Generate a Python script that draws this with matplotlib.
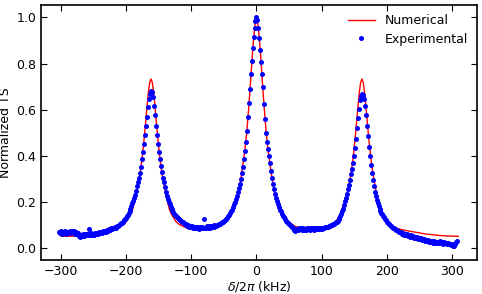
import numpy as np
import matplotlib
matplotlib.use("Agg")
import matplotlib.pyplot as plt

out_path = "out.png"

# Numerical (simulated) spectrum
num_x = [
    -300, -290, -280, -270, -260, -250, -240, -230, -220, -212, -206, -200,
    -194, -190, -186, -182, -179, -176, -174, -172, -170, -168, -166, -164,
    -162, -160, -158, -156, -154, -152, -150, -148, -145, -142, -138, -134,
    -130, -124, -118, -110, -100, -90, -80, -70, -60, -50, -43, -38, -34,
    -30, -27, -24, -21, -18, -15, -12, -10, -8, -6, -4, -2, 0, 2, 4, 6, 8,
    10, 12, 15, 18, 21, 24, 27, 30, 34, 38, 43, 50, 60, 70, 80, 90, 100,
    110, 120, 126, 130, 134, 138, 142, 145, 148, 150, 152, 154, 156, 158,
    160, 162, 164, 166, 168, 170, 172, 174, 176, 179, 182, 186, 190, 195,
    200, 205, 210, 220, 230, 240, 250, 260, 270, 280, 290, 300, 310,
]
num_y = [
    0.052, 0.052, 0.053, 0.055, 0.058, 0.061, 0.065, 0.070, 0.078, 0.088, 0.100, 0.115,
    0.143, 0.170, 0.220, 0.274, 0.321, 0.382, 0.433, 0.490, 0.554, 0.618, 0.676, 0.718,
    0.733, 0.718, 0.676, 0.618, 0.554, 0.490, 0.433, 0.382, 0.321, 0.274, 0.220, 0.170,
    0.145, 0.117, 0.102, 0.092, 0.085, 0.082, 0.082, 0.085, 0.093, 0.112, 0.135, 0.155, 0.180,
    0.215, 0.250, 0.300, 0.360, 0.420, 0.500, 0.605, 0.683, 0.766, 0.850, 0.920, 0.972, 0.990, 0.972, 0.920, 0.850, 0.766,
    0.683, 0.605, 0.500, 0.420, 0.360, 0.300, 0.250, 0.215, 0.180, 0.155, 0.135, 0.113, 0.094, 0.088, 0.086, 0.086, 0.088,
    0.096, 0.110, 0.133, 0.160, 0.190, 0.225, 0.274, 0.321, 0.382, 0.433, 0.490, 0.554, 0.618, 0.676,
    0.718, 0.733, 0.718, 0.676, 0.618, 0.554, 0.490, 0.433, 0.382, 0.321, 0.274, 0.210, 0.168, 0.135,
    0.115, 0.101, 0.092, 0.083, 0.077, 0.072, 0.067, 0.062, 0.059, 0.056, 0.054, 0.053, 0.052,
]

# Experimental sweep: starts at -303 kHz, one point every 1.5 kHz
exp_start = -303.0
exp_step = 1.5
exp_y = [
    0.072, 0.066, 0.074, 0.063, 0.071, 0.068, 0.076, 0.064, 0.072, 0.066,  # -303
    0.070, 0.074, 0.066, 0.076, 0.071, 0.073, 0.064, 0.069, 0.060, 0.066,  # -288
    0.054, 0.050, 0.058, 0.052, 0.061, 0.055, 0.062, 0.056, 0.064, 0.057,  # -273
    0.061, 0.082, 0.058, 0.066, 0.059, 0.064, 0.057, 0.066, 0.060, 0.068,  # -258
    0.062, 0.069, 0.066, 0.071, 0.067, 0.074, 0.069, 0.076, 0.071, 0.079,  # -243
    0.076, 0.083, 0.078, 0.086, 0.082, 0.088, 0.086, 0.093, 0.090, 0.097,  # -228
    0.098, 0.101, 0.104, 0.108, 0.111, 0.116, 0.121, 0.126, 0.132, 0.139,  # -213
    0.146, 0.152, 0.160, 0.172, 0.183, 0.195, 0.205, 0.218, 0.232, 0.248,  # -198
    0.268, 0.285, 0.305, 0.325, 0.350, 0.385, 0.415, 0.450, 0.490, 0.530,  # -183
    0.570, 0.610, 0.645, 0.668, 0.680, 0.675, 0.655, 0.615, 0.575, 0.530,  # -168
    0.490, 0.450, 0.415, 0.385, 0.355, 0.330, 0.305, 0.285, 0.265, 0.245,  # -153
    0.228, 0.215, 0.202, 0.190, 0.180, 0.172, 0.163, 0.156, 0.150, 0.144,  # -138
    0.139, 0.135, 0.130, 0.126, 0.122, 0.118, 0.115, 0.112, 0.108, 0.106,  # -123
    0.106, 0.098, 0.101, 0.094, 0.097, 0.092, 0.095, 0.089, 0.093, 0.088,  # -108
    0.094, 0.086, 0.092, 0.085, 0.091, 0.088, 0.093, 0.087, 0.127, 0.090,  # -93
    0.086, 0.095, 0.088, 0.096, 0.090, 0.098, 0.091, 0.097, 0.094, 0.100,  # -78
    0.098, 0.097, 0.100, 0.102, 0.104, 0.106, 0.109, 0.112, 0.114, 0.120,  # -63
    0.122, 0.127, 0.132, 0.138, 0.145, 0.152, 0.160, 0.168, 0.178, 0.190,  # -48
    0.200, 0.212, 0.226, 0.242, 0.260, 0.280, 0.302, 0.325, 0.350, 0.385,  # -33
    0.420, 0.460, 0.510, 0.570, 0.630, 0.690, 0.755, 0.810, 0.865, 0.915,  # -18
    0.955, 0.985, 1.000, 0.990, 0.955, 0.910, 0.860, 0.805, 0.755, 0.700,  # -3
    0.625, 0.560, 0.500, 0.460, 0.430, 0.400, 0.370, 0.335, 0.305, 0.280,  # 12
    0.255, 0.235, 0.218, 0.205, 0.190, 0.178, 0.168, 0.160, 0.150, 0.140,  # 27
    0.134, 0.127, 0.120, 0.115, 0.110, 0.105, 0.100, 0.096, 0.092, 0.088,  # 42
    0.080, 0.076, 0.083, 0.079, 0.085, 0.080, 0.087, 0.082, 0.088, 0.081,  # 57
    0.087, 0.081, 0.085, 0.079, 0.086, 0.082, 0.088, 0.080, 0.086, 0.083,  # 72
    0.088, 0.080, 0.087, 0.082, 0.089, 0.083, 0.087, 0.084, 0.090, 0.085,  # 87
    0.089, 0.088, 0.091, 0.092, 0.094, 0.093, 0.096, 0.098, 0.100, 0.102,  # 102
    0.104, 0.107, 0.110, 0.112, 0.115, 0.120, 0.126, 0.133, 0.140, 0.150,  # 117
    0.160, 0.172, 0.187, 0.203, 0.220, 0.237, 0.255, 0.275, 0.295, 0.320,  # 132
    0.345, 0.370, 0.400, 0.435, 0.475, 0.520, 0.565, 0.605, 0.640, 0.660,  # 147
    0.670, 0.665, 0.645, 0.615, 0.575, 0.530, 0.485, 0.440, 0.400, 0.360,  # 162
    0.325, 0.295, 0.268, 0.245, 0.225, 0.208, 0.195, 0.183, 0.172, 0.163,  # 177
    0.155, 0.148, 0.141, 0.134, 0.128, 0.121, 0.116, 0.111, 0.106, 0.101,  # 192
    0.097, 0.094, 0.090, 0.087, 0.084, 0.080, 0.078, 0.076, 0.072, 0.071,  # 207
    0.070, 0.063, 0.066, 0.059, 0.064, 0.056, 0.060, 0.054, 0.057, 0.051,  # 222
    0.056, 0.049, 0.052, 0.046, 0.050, 0.045, 0.048, 0.041, 0.045, 0.040,  # 237
    0.043, 0.037, 0.041, 0.034, 0.040, 0.031, 0.037, 0.030, 0.034, 0.028,  # 252
    0.033, 0.026, 0.032, 0.024, 0.030, 0.022, 0.029, 0.021, 0.027, 0.025,  # 267
    0.030, 0.022, 0.028, 0.020, 0.027, 0.021, 0.024, 0.018, 0.023, 0.019,  # 282
    0.020, 0.014, 0.017, 0.009, 0.012, 0.018, 0.026, 0.032,                # 297
]
exp_x = exp_start + exp_step * np.arange(len(exp_y))

x_ticks = [-300, -200, -100, 0, 100, 200, 300]
y_ticks = [0.0, 0.2, 0.4, 0.6, 0.8, 1.0]

fig = plt.figure(figsize=(4.82, 2.94), dpi=100)
ax = fig.add_axes([0.085, 0.116, 0.905, 0.866])

ax.plot(num_x, num_y, color="#ff0000", lw=1.0, label="Numerical")
ax.plot(exp_x, exp_y, ls="none", marker="o", ms=3.6, mew=0,
        color="#0000ff", label="Experimental")

ax.set_xlim(-331, 339)
ax.set_ylim(-0.05, 1.052)
ax.set_xticks(x_ticks)
ax.set_yticks(y_ticks)
ax.set_xticklabels([f"\u2212{abs(t)}" if t < 0 else str(t) for t in x_ticks])
ax.set_yticklabels([f"{t:.1f}" for t in y_ticks])
ax.tick_params(direction="in", top=True, right=True, labelsize=9, length=4, width=0.8)
for s in ax.spines.values():
    s.set_linewidth(1.2)

ax.set_xlabel(r"$\delta/2\pi$ (kHz)", fontsize=9, labelpad=1)
ax.set_ylabel("Normalized TS", fontsize=9, labelpad=3)

ax.legend(loc="upper right", frameon=False, fontsize=9, numpoints=1,
          handlelength=2.2, borderaxespad=0.3, labelspacing=0.45)

fig.savefig(out_path, dpi=100)
print(f"Saved plot to {out_path}")
